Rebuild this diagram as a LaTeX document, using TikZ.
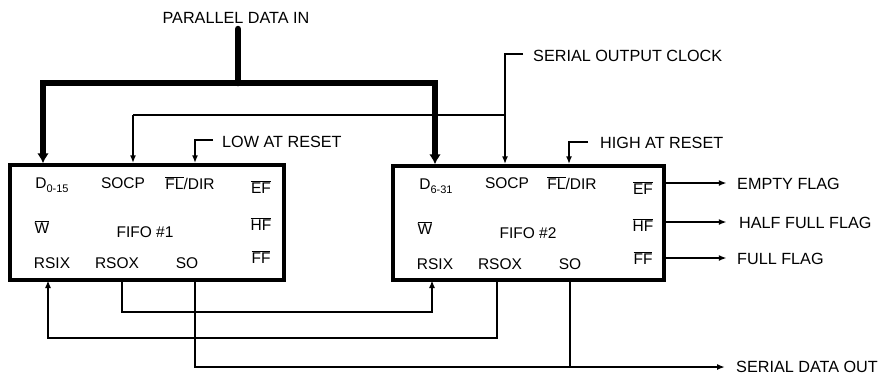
\documentclass[tikz,border=0pt]{standalone}
\usepackage{fontspec}
\setmainfont{Liberation Sans}
\usetikzlibrary{arrows.meta}
\newcommand{\ovl}[1]{$\overline{\hbox{#1}}$}
\newcommand{\dsub}[1]{D\raisebox{-3.5pt}{\fontsize{11}{11}\selectfont #1}}
\begin{document}
\begin{tikzpicture}[x=1pt,y=-1pt,
  lbl/.style={inner sep=0pt, font=\fontsize{16.2}{18}\selectfont},
  pin/.style={inner sep=0pt, font=\fontsize{15.5}{17}\selectfont},
  fifo/.style={draw, line width=3.5pt, inner sep=0pt},
  wire/.style={line width=1.6pt},
  arr/.style={wire, -{Latex[length=8pt,width=6pt]}},
  bus/.style={line width=6.5pt},
  busarr/.style={line width=6.5pt, -{Latex[length=10pt,width=12pt]}}]
\useasboundingbox (0,0) rectangle (880,376);

% boxes
\node[fifo, minimum width=274pt, minimum height=115pt] (f1) at (147,222.5) {};
\node[fifo, minimum width=271pt, minimum height=114pt] (f2) at (528.5,223) {};

% box 1 pins
\node[pin] (d1) at (52,185) {\dsub{0-15}};
\node[pin] (socp1) at (123,183) {SOCP};
\node[pin] (fl1) at (190,183) {\ovl{FL}/DIR};
\node[pin] (ef1) at (261,187) {\ovl{EF}};
\node[pin] (w1) at (42,227) {\ovl{W}};
\node[pin] (name1) at (145,232) {FIFO \#1};
\node[pin] (hf1) at (261,224) {\ovl{HF}};
\node[pin] (rsix1) at (52,263) {RSIX};
\node[pin] (rsox1) at (117,263) {RSOX};
\node[pin] (so1) at (187,263) {SO};
\node[pin] (ff1) at (261,257) {\ovl{FF}};

% box 2 pins
\node[pin] (d2) at (436,186) {\dsub{6-31}};
\node[pin] (socp2) at (507,183) {SOCP};
\node[pin] (fl2) at (572,183) {\ovl{FL}/DIR};
\node[pin] (ef2) at (643,188) {\ovl{EF}};
\node[pin] (w2) at (425,228) {\ovl{W}};
\node[pin] (name2) at (528,233) {FIFO \#2};
\node[pin] (hf2) at (643,225) {\ovl{HF}};
\node[pin] (rsix2) at (435,264) {RSIX};
\node[pin] (rsox2) at (500,264) {RSOX};
\node[pin] (so2) at (570,264) {SO};
\node[pin] (ff2) at (643,258) {\ovl{FF}};

% outer labels
\node[lbl] (pdi) at (236,18) {PARALLEL DATA IN};
\node[lbl, anchor=west] (soc) at (533,56) {SERIAL OUTPUT CLOCK};
\node[lbl, anchor=west] (low) at (222,142) {LOW AT RESET};
\node[lbl, anchor=west] (high) at (600,143) {HIGH AT RESET};
\node[lbl, anchor=west] (empty) at (737,184) {EMPTY FLAG};
\node[lbl, anchor=west] (half) at (739,223) {HALF FULL FLAG};
\node[lbl, anchor=west] (full) at (737,259) {FULL FLAG};
\node[lbl, anchor=west] (sdo) at (736,367) {SERIAL DATA OUT};

% coordinates
\coordinate (bustop) at (238,29);
\coordinate (busmid) at (238,83);
\coordinate (busl) at (43,83);
\coordinate (busr) at (435,83);
\coordinate (socA) at (523,54);
\coordinate (socB) at (505,54);
\coordinate (socC) at (505,115);
\coordinate (socD) at (133,115);
\coordinate (lowA) at (213,140);
\coordinate (lowB) at (195,140);
\coordinate (highA) at (588,142);
\coordinate (highB) at (569,142);
\coordinate (sdoend) at (725,367);

% parallel bus
\draw[bus, line cap=round] (bustop) -- (busmid);
\draw[bus, line cap=rect] (busl) -- (busr);
\draw[busarr] (busl) -- (busl |- f1.north);
\draw[busarr] (busr) -- (busr |- f2.north);

% serial output clock
\draw[wire] (socA) -- (socB) -- (socC);
\draw[arr] (socC) -- (socC |- f2.north);
\draw[wire] (socC) -- (socD);
\draw[arr] (socD) -- (socD |- f1.north);

% reset levels
\draw[arr] (lowA) -- (lowB) -- (lowB |- f1.north);
\draw[arr] (highA) -- (highB) -- (highB |- f2.north);

% flags
\draw[arr] (f2.east |- empty) ++(0,-1) -- ++(61,0);
\draw[arr] (f2.east |- half) ++(0,-1) -- ++(61,0);
\draw[arr] (f2.east |- full) ++(0,-1) -- ++(61,0);

% expansion wiring
\draw[arr] (122,280) -- (122,312) -- (432,312) -- (432,280);
\draw[arr] (497,280) -- (497,338) -- (48,338) -- (48,280);
\draw[arr] (195,280) -- (195,367) -- (sdoend);
\draw[wire] (570,280) -- (570,367);
\end{tikzpicture}
\end{document}
